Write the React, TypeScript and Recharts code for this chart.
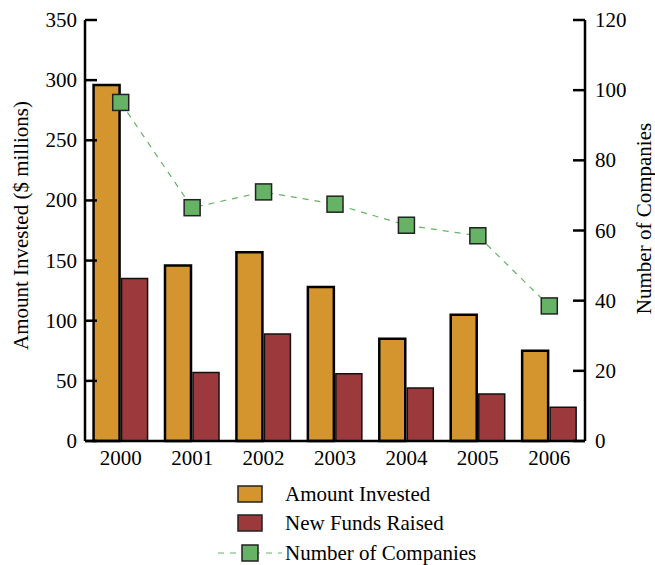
import { ComposedChart, Bar, Line, XAxis, YAxis } from 'recharts';

const years = ['2000', '2001', '2002', '2003', '2004', '2005', '2006'];
const amountInvested = [296, 146, 157, 128, 85, 105, 75];
const newFundsRaised = [135, 57, 89, 56, 44, 39, 28];
const numberOfCompanies = [96.5, 66.5, 71, 67.5, 61.5, 58.5, 38.5];

const leftTicks = [0, 50, 100, 150, 200, 250, 300, 350];
const rightTicks = [0, 20, 40, 60, 80, 100, 120];

const seriesNames = ['Amount Invested', 'New Funds Raised', 'Number of Companies'];
const axisTitles = ['Amount Invested ($ millions)', 'Number of Companies'];

const ORANGE = '#d4952f';
const RED = '#9c393c';
const GREEN = '#66b366';
const FONT = '"Liberation Serif", "Times New Roman", serif';
const FS = 21;

const data = years.map((year, i) => ({
  year,
  invested: amountInvested[i],
  funds: newFundsRaised[i],
  companies: numberOfCompanies[i],
}));

const TICK_MARGIN = 8;
const TICK_LEN = 12;

const LeftTick = (props: any) => {
  const { x, y, payload } = props;
  const axisX = x + TICK_MARGIN;
  return (
    <g>
      <line x1={axisX} x2={axisX + TICK_LEN} y1={y} y2={y} stroke="#000" strokeWidth={2.5} />
      <text x={x} y={y} dy={7} textAnchor="end" fontSize={FS} fontFamily={FONT} fill="#000">
        {payload.value}
      </text>
    </g>
  );
};

const RightTick = (props: any) => {
  const { x, y, payload } = props;
  const axisX = x - TICK_MARGIN;
  return (
    <g>
      <line x1={axisX - TICK_LEN} x2={axisX} y1={y} y2={y} stroke="#000" strokeWidth={2.5} />
      <text x={x + 2} y={y} dy={7} textAnchor="start" fontSize={FS} fontFamily={FONT} fill="#000">
        {payload.value}
      </text>
    </g>
  );
};

// rotated axis title, placed inside the axis box
const AxisTitle = (props: any) => {
  const { viewBox, text, side } = props;
  if (!viewBox) return null;
  const cx = side === 'left' ? viewBox.x + 21 : viewBox.x + viewBox.width - 11;
  const cy = viewBox.y + viewBox.height / 2 + (side === 'left' ? -5 : -12);
  return (
    <text
      x={cx}
      y={cy}
      transform={`rotate(-90 ${cx} ${cy})`}
      textAnchor="middle"
      dominantBaseline="central"
      fontSize={FS}
      fontFamily={FONT}
      fill="#000"
    >
      {text}
    </text>
  );
};

const SquareDot = (props: any) => {
  const { cx, cy } = props;
  if (cx == null || cy == null) return null;
  return <rect x={cx - 8} y={cy - 8} width={16} height={16} fill={GREEN} stroke="#222" strokeWidth={1.5} />;
};

function LegendBlock() {
  const rowY = [16, 45, 75];
  return (
    <svg width={655} height={90} style={{ position: 'absolute', left: 0, top: 478 }}>
      <rect x={238} y={rowY[0] - 8} width={24} height={16} fill={ORANGE} stroke="#222" strokeWidth={1.5} />
      <rect x={238} y={rowY[1] - 8} width={24} height={16} fill={RED} stroke="#222" strokeWidth={1.5} />
      <line x1={218} x2={282} y1={rowY[2]} y2={rowY[2]} stroke={GREEN} strokeWidth={1} strokeDasharray="6 6" />
      <rect x={242} y={rowY[2] - 8} width={16} height={16} fill={GREEN} stroke="#222" strokeWidth={1.5} />
      {seriesNames.map((name, i) => (
        <text key={name} x={285} y={rowY[i]} dy={7} fontSize={FS} fontFamily={FONT} fill="#000">
          {name}
        </text>
      ))}
    </svg>
  );
}

export default function App() {
  return (
    <div style={{ position: 'absolute', left: 0, top: 0, width: 655, height: 565, background: '#fff' }}>
      <ComposedChart
        width={655}
        height={565}
        data={data}
        margin={{ top: 20, right: 0, left: 0, bottom: 94 }}
        barCategoryGap="12%"
        barGap={2}
      >
        <XAxis
          dataKey="year"
          height={30}
          tickLine={false}
          tickSize={0}
          tickMargin={9}
          axisLine={{ stroke: '#000', strokeWidth: 2.5 }}
          tick={{ fill: '#000', fontSize: FS, fontFamily: FONT }}
        />
        <YAxis
          yAxisId="left"
          orientation="left"
          width={85}
          domain={[0, 350]}
          ticks={leftTicks}
          interval={0}
          tickLine={false}
          tickSize={0}
          tickMargin={TICK_MARGIN}
          axisLine={{ stroke: '#000', strokeWidth: 2.5 }}
          tick={<LeftTick />}
          label={<AxisTitle text={axisTitles[0]} side="left" />}
        />
        <YAxis
          yAxisId="right"
          orientation="right"
          width={70}
          domain={[0, 120]}
          ticks={rightTicks}
          interval={0}
          tickLine={false}
          tickSize={0}
          tickMargin={TICK_MARGIN}
          axisLine={{ stroke: '#000', strokeWidth: 2.5 }}
          tick={<RightTick />}
          label={<AxisTitle text={axisTitles[1]} side="right" />}
        />
        <Bar
          yAxisId="left"
          dataKey="invested"
          name={seriesNames[0]}
          fill={ORANGE}
          stroke="#000"
          strokeWidth={2.5}
          isAnimationActive={false}
        />
        <Bar
          yAxisId="left"
          dataKey="funds"
          name={seriesNames[1]}
          fill={RED}
          stroke="#111"
          strokeWidth={1.5}
          isAnimationActive={false}
        />
        <Line
          yAxisId="right"
          dataKey="companies"
          name={seriesNames[2]}
          type="linear"
          stroke={GREEN}
          strokeWidth={1.2}
          strokeDasharray="6 6"
          dot={<SquareDot />}
          activeDot={false}
          isAnimationActive={false}
        />
      </ComposedChart>
      <LegendBlock />
    </div>
  );
}
